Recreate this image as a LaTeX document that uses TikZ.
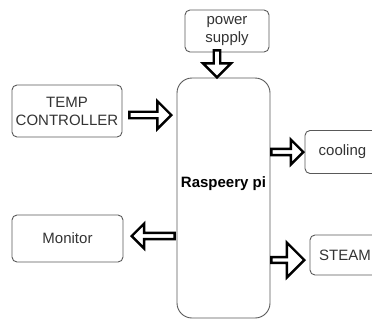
\documentclass[tikz,border=0pt]{standalone}
\usepackage{fontspec}
\setmainfont{Liberation Sans}
\usetikzlibrary{shapes.arrows}

\begin{document}
\begin{tikzpicture}[x=1pt,y=-1pt,
	box/.style={draw=black!65,line width=0.9pt,rounded corners=5pt,text=black!80,align=center,inner sep=2pt,font=\fontsize{15}{18}\selectfont},
	fat/.style={single arrow,draw,fill=white,line width=2.4pt,inner sep=0pt,single arrow head extend=4pt,single arrow head indent=0pt,minimum width=28pt}]
	\useasboundingbox (0,0) rectangle (372,322);
	\node[box,minimum width=84pt,minimum height=42pt] (power) at (227,31) {power\\supply};
	\node[box,minimum width=93pt,minimum height=240pt,rounded corners=15pt,
		label={[yshift=14pt,font=\fontsize{15}{18}\selectfont\bfseries]center:Raspeery pi}] (rpi) at (223.5,198) {};
	\node[box,minimum width=110pt,minimum height=52pt] (temp) at (67,111) {TEMP\\CONTROLLER};
	\node[box,minimum width=111pt,minimum height=47pt] (monitor) at (67.5,238.5) {Monitor};
	\node[box,minimum width=75pt,minimum height=43pt] (cooling) at (342.5,152) {cooling};
	\node[box,minimum width=70pt,minimum height=40pt] (steam) at (345,255) {STEAM};
	% block arrows
	\node[fat,shape border rotate=270,minimum height=27pt,anchor=tip] (pdown) at (217,79) {};
	\node[fat,minimum height=42pt,anchor=tip] (ptemp) at (173,115) {};
	\node[fat,minimum height=32pt,minimum width=25pt,single arrow head extend=3.5pt,anchor=tip] (pcool) at (305,152) {};
	\node[fat,shape border rotate=180,minimum height=43pt,minimum width=25pt,single arrow head extend=3.5pt,anchor=tip] (pmon) at (130,236) {};
	\node[fat,minimum height=33pt,minimum width=35pt,single arrow head extend=6pt,anchor=tip] (psteam) at (306,260) {};
\end{tikzpicture}
\end{document}
